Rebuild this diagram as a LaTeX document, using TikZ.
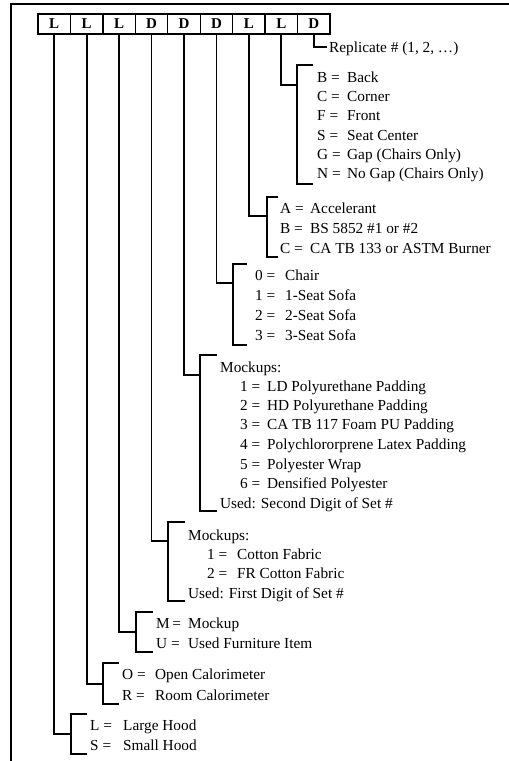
\documentclass[tikz,border=0pt]{standalone}
\usepackage{fontspec}
\setmainfont{Liberation Serif}
\newcommand\ent[6]{%
  \node[txt] (#1k) at (#3,#2+5) {#4};
  \node[txt] (#1v) at (#5,#2+5) {#6};}
\newcommand\plain[4]{\node[txt] (#1) at (#3,#2+5) {#4};}
% \brk{index}{xb}{top}{conn}{bottom}{tick}
\newcommand\brk[6]{%
  \coordinate (j#1) at (#2,#4);
  \coordinate (t#1) at (#2+#6,#3);
  \coordinate (u#1) at (#2+#6,#5);
  \draw[conn] (b#1.south) |- (j#1);
  \draw[conn] (t#1) -| (j#1) |- (u#1);}
\begin{document}
\begin{tikzpicture}[x=1pt,y=-1pt,
  txt/.style={anchor=base west, inner sep=0pt, font=\fontsize{15.3}{18}\selectfont},
  digit/.style={draw, line width=1.3pt, minimum width=32.44pt, minimum height=20pt, inner sep=0pt, font=\fontsize{15}{18}\selectfont\bfseries},
  conn/.style={line width=1.8pt},
  frame/.style={line width=2.6pt}]
\useasboundingbox (0,0) rectangle (509,761);
\fill[white] (0,0) rectangle (509,761);
\draw[frame] (11,761) -- (11,4) -- (509,4);
\foreach \c [count=\i] in {L,L,L,D,D,D,L,L,D}
  \node[digit] (b\i) at ({38+32.44*(\i-0.5)},24) {\c};
% group 9
\coordinate (j9) at (327,47);
\draw[conn] (b9.south) |- (j9);
\plain{rep}{47}{329}{Replicate \# (1, 2, \ldots)}
% group 8
\brk{8}{297}{65}{85}{184}{16}
\ent{g8a}{77}{317}{B =}{347}{Back}
\ent{g8b}{96.3}{317}{C =}{347}{Corner}
\ent{g8c}{115.6}{317}{F =}{347}{Front}
\ent{g8d}{135}{317}{S =}{347}{Seat Center}
\ent{g8e}{154.2}{317}{G =}{347}{Gap (Chairs Only)}
\ent{g8f}{173.5}{317}{N =}{347}{No Gap (Chairs Only)}
% group 7
\brk{7}{267}{197}{216}{257}{11}
\ent{g7a}{208}{280}{A =}{310}{Accelerant}
\ent{g7b}{228}{280}{B =}{310}{BS 5852 \#1 or \#2}
\ent{g7c}{248}{280}{C =}{310}{CA TB 133 or ASTM Burner}
% group 6
\brk{6}{233}{264}{283}{345}{14}
\ent{g6a}{275}{255}{0 =}{285}{Chair}
\ent{g6b}{295}{255}{1 =}{285}{1-Seat Sofa}
\ent{g6c}{315}{255}{2 =}{285}{2-Seat Sofa}
\ent{g6d}{335}{255}{3 =}{285}{3-Seat Sofa}
% group 5
\brk{5}{200}{355}{375}{511}{17}
\plain{g5h}{367}{220}{Mockups:}
\ent{g5a}{386}{240}{1 =}{267}{LD Polyurethane Padding}
\ent{g5b}{405}{240}{2 =}{267}{HD Polyurethane Padding}
\ent{g5c}{424}{240}{3 =}{267}{CA TB 117 Foam PU Padding}
\ent{g5d}{444}{240}{4 =}{267}{Polychlororprene Latex Padding}
\ent{g5e}{464}{240}{5 =}{267}{Polyester Wrap}
\ent{g5f}{483}{240}{6 =}{267}{Densified Polyester}
\plain{g5u}{503}{220}{Used: Second Digit of Set \#}
% group 4
\brk{4}{168}{522}{541}{601}{17}
\plain{g4h}{535}{188}{Mockups:}
\ent{g4a}{554}{207}{1 =}{237}{Cotton Fabric}
\ent{g4b}{573}{207}{2 =}{237}{FR Cotton Fabric}
\plain{g4u}{593}{188}{Used: First Digit of Set \#}
% group 3
\brk{3}{136}{612}{632}{652}{17}
\ent{g3a}{623}{156}{M\,=}{188}{Mockup}
\ent{g3b}{643}{156}{U =}{188}{Used Furniture Item}
% group 2
\brk{2}{103}{663}{684}{704}{16}
\ent{g2a}{674}{122}{O =}{155}{Open Calorimeter}
\ent{g2b}{695}{122}{R =}{155}{Room Calorimeter}
% group 1
\brk{1}{71}{714}{734}{754}{16}
\ent{g1a}{725}{90}{L =}{123}{Large Hood}
\ent{g1b}{745}{90}{S =}{123}{Small Hood}
\end{tikzpicture}
\end{document}
